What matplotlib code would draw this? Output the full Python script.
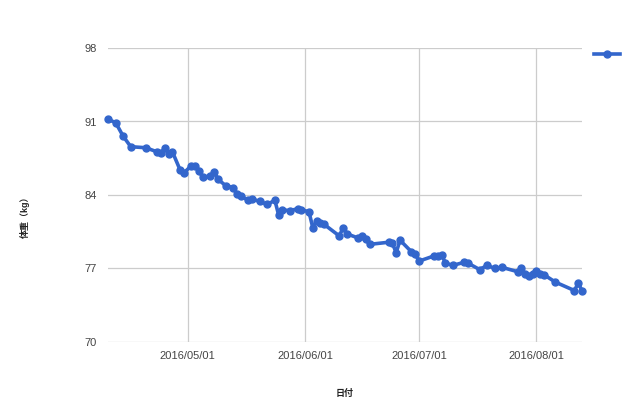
import matplotlib
matplotlib.use("Agg")
import matplotlib.pyplot as plt
import matplotlib.dates as mdates
import pandas as pd

plt.rcParams["font.family"] = ["Liberation Sans", "Noto Sans CJK JP", "DejaVu Sans"]

dates = [
    "2016-04-10", "2016-04-12", "2016-04-14", "2016-04-16", "2016-04-20", "2016-04-23",
    "2016-04-24", "2016-04-25", "2016-04-26", "2016-04-27", "2016-04-29", "2016-04-30",
    "2016-05-02", "2016-05-03", "2016-05-04", "2016-05-05", "2016-05-07", "2016-05-08",
    "2016-05-09", "2016-05-11", "2016-05-13", "2016-05-14", "2016-05-15", "2016-05-17",
    "2016-05-18", "2016-05-20", "2016-05-22", "2016-05-24", "2016-05-25", "2016-05-26",
    "2016-05-28", "2016-05-30", "2016-05-31", "2016-06-02", "2016-06-03", "2016-06-04",
    "2016-06-05", "2016-06-06", "2016-06-10", "2016-06-11", "2016-06-12", "2016-06-15",
    "2016-06-16", "2016-06-17", "2016-06-18", "2016-06-23", "2016-06-24", "2016-06-25",
    "2016-06-26", "2016-06-29", "2016-06-30", "2016-07-01", "2016-07-05", "2016-07-06",
    "2016-07-07", "2016-07-08", "2016-07-10", "2016-07-13", "2016-07-14", "2016-07-17",
    "2016-07-19", "2016-07-21", "2016-07-23", "2016-07-27", "2016-07-28", "2016-07-29",
    "2016-07-30", "2016-07-31", "2016-08-01", "2016-08-02", "2016-08-03", "2016-08-06",
    "2016-08-11", "2016-08-12", "2016-08-13",
]
weights = [
    91.2, 90.9, 89.6, 88.6, 88.5, 88.1,
    88.0, 88.5, 87.9, 88.1, 86.4, 86.1,
    86.8, 86.8, 86.3, 85.7, 85.8, 86.2,
    85.5, 84.9, 84.7, 84.1, 83.9, 83.5,
    83.6, 83.4, 83.1, 83.5, 82.1, 82.6,
    82.5, 82.7, 82.6, 82.4, 80.9, 81.5,
    81.3, 81.2, 80.1, 80.9, 80.3, 79.9,
    80.1, 79.8, 79.3, 79.5, 79.4, 78.5,
    79.7, 78.6, 78.4, 77.7, 78.2, 78.2,
    78.3, 77.5, 77.3, 77.6, 77.5, 76.9,
    77.3, 77.0, 77.1, 76.7, 77.0, 76.5,
    76.3, 76.5, 76.8, 76.5, 76.4, 75.7,
    74.9, 75.6, 74.9,
]
y_ticks = [70, 77, 84, 91, 98]
x_ticks = ["2016-05-01", "2016-06-01", "2016-07-01", "2016-08-01"]

x = pd.to_datetime(dates)
blue = "#3366cc"

fig = plt.figure(figsize=(6.4, 4.16), dpi=100)
ax = fig.add_axes([108 / 640, 74 / 416, 474 / 640, 294 / 416])

line, = ax.plot(x, weights, color=blue, linewidth=2.6, marker="o",
                markersize=5.0, zorder=3, clip_on=False)

ax.set_xlim(x[0], x[-1])
ax.set_ylim(70, 98)
ax.set_yticks(y_ticks)
ax.set_xticks(pd.to_datetime(x_ticks))
ax.xaxis.set_major_formatter(mdates.DateFormatter("%Y/%m/%d"))

ax.grid(True, color="#cccccc", linewidth=0.9)
ax.set_axisbelow(True)
for s in ax.spines.values():
    s.set_visible(False)
ax.tick_params(length=0, labelsize=8, labelcolor="#444444")
ax.tick_params(axis="y", pad=8)
ax.tick_params(axis="x", pad=6.5)

fig.text(345 / 640, 1 - 393 / 416, "日付", ha="center", va="center",
         fontsize=6.5, fontweight="bold", color="#222222")
fig.text(25 / 640, 1 - 215 / 416, "体重（kg）", ha="center", va="center",
         rotation=90, fontsize=6.5, fontweight="bold", color="#222222")

fig.legend(handles=[line], labels=[""], loc="center left",
           bbox_to_anchor=(594 / 640, 1 - 55 / 416), frameon=False,
           handlelength=2.2, fontsize=8.5, borderaxespad=0, borderpad=0)

fig.savefig("out.png", dpi=100)
